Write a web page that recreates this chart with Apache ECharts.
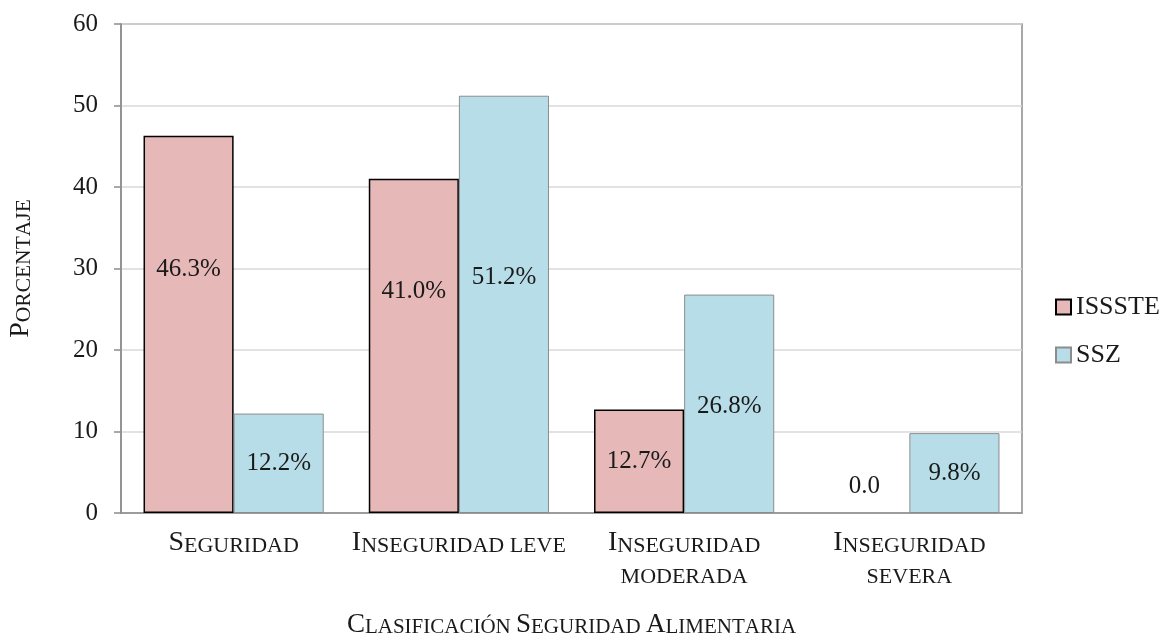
<!DOCTYPE html>
<html>
<head>
<meta charset="utf-8">
<script src="https://cdn.jsdelivr.net/npm/echarts@6/dist/echarts.min.js"></script>
<style>
  html, body { margin: 0; padding: 0; background: #fff; }
  #chart { width: 1164px; height: 637px; }
</style>
</head>
<body>
<div id="chart"></div>
<script>
// Food security classification by health-service affiliation (percent)
const categories = ['Seguridad', 'Inseguridad leve', 'Inseguridad\nmoderada', 'Inseguridad\nsevera'];
const seriesNames = ['ISSSTE', 'SSZ'];
const issste = [46.3, 41.0, 12.7, 0.0];
const ssz = [12.2, 51.2, 26.8, 9.8];
const yTicks = [0, 10, 20, 30, 40, 50, 60];

// vertical nudges of the value labels inside the bars (px)
const isssteLabelShift = [-55, -54, 0, 0];
const sszLabelShift = [0, -27, 3, 0];

const FONT = '"Liberation Serif", "DejaVu Serif", serif';

// Small-caps rendering through rich text: capitals big, lower case as small capitals
function smallCaps(text, big, small) {
  let out = '';
  for (const ch of text) {
    if (ch === '\n') { out += '\n'; continue; }
    if (ch === ' ') { out += '{sp| }'; continue; }
    if (ch === ch.toUpperCase() && ch !== ch.toLowerCase()) out += '{' + big + '|' + ch + '}';
    else out += '{' + small + '|' + ch.toUpperCase() + '}';
  }
  return out;
}
function capsRich(bigSize, smallSize) {
  return {
    B: { fontFamily: FONT, fontSize: bigSize, color: '#1a1a1a', verticalAlign: 'bottom' },
    s: { fontFamily: FONT, fontSize: smallSize, color: '#1a1a1a', verticalAlign: 'bottom' },
    sp: { fontFamily: FONT, fontSize: smallSize, color: '#1a1a1a', verticalAlign: 'bottom' }
  };
}

function fmtLabel(p) {
  return p.value === 0 ? '0.0' : p.value.toFixed(1) + '%';
}

function buildData(values, shifts) {
  return values.map((v, i) => {
    if (v === 0) {
      return { value: v, itemStyle: { borderWidth: 0 }, label: { position: 'top', distance: 14 } };
    }
    return { value: v, label: { offset: [0, shifts[i]] } };
  });
}

const chart = echarts.init(document.getElementById('chart'), null, { renderer: 'canvas' });

const labelStyle = {
  show: true,
  position: 'inside',
  formatter: fmtLabel,
  fontFamily: FONT,
  fontSize: 25,
  color: '#1a1a1a'
};

chart.setOption({
  animation: false,
  backgroundColor: '#ffffff',
  grid: {
    left: 121, right: 142, top: 24, bottom: 124,
    show: true, borderColor: '#8c8c8c', borderWidth: 1.5,
    outerBoundsMode: 'none'
  },
  legend: {
    orient: 'vertical',
    left: 1050,
    top: 289,
    itemGap: 22,
    itemWidth: 15,
    itemHeight: 15,
    icon: 'rect',
    data: seriesNames,
    textStyle: { fontFamily: FONT, fontSize: 26, color: '#1a1a1a' }
  },
  xAxis: {
    type: 'category',
    data: categories,
    name: smallCaps('Clasificación Seguridad Alimentaria', 'B', 's'),
    nameLocation: 'middle',
    nameGap: 95,
    nameMoveOverlap: false,
    nameTextStyle: { lineHeight: 30, rich: capsRich(27, 21) },
    axisLine: { show: true, lineStyle: { color: '#8c8c8c', width: 1.5 } },
    axisTick: { show: false },
    axisLabel: {
      interval: 0,
      margin: 13,
      lineHeight: 31,
      formatter: v => smallCaps(v, 'B', 's'),
      rich: capsRich(28, 22)
    }
  },
  yAxis: {
    type: 'value',
    min: 0, max: 60, interval: 10,
    name: smallCaps('Porcentaje', 'B', 's'),
    nameLocation: 'middle',
    nameRotate: 90,
    nameGap: 86,
    nameMoveOverlap: false,
    nameTextStyle: { lineHeight: 30, rich: capsRich(28, 21.5) },
    axisLine: { show: true, lineStyle: { color: '#8c8c8c', width: 1.5 } },
    axisTick: { show: true, inside: false, length: 7, lineStyle: { color: '#8c8c8c', width: 1.5 } },
    axisLabel: {
      margin: 23,
      fontFamily: FONT, fontSize: 25, color: '#1a1a1a',
      formatter: v => (yTicks.includes(v) ? String(v) : '')
    },
    splitLine: { show: true, lineStyle: { color: '#d9d9d9', width: 1.5 } }
  },
  series: [
    {
      name: seriesNames[0],
      type: 'bar',
      data: buildData(issste, isssteLabelShift),
      barGap: '0%',
      barCategoryGap: '20%',
      itemStyle: { color: '#e6b8b7', borderColor: '#000000', borderWidth: 1.5 },
      label: labelStyle
    },
    {
      name: seriesNames[1],
      type: 'bar',
      data: buildData(ssz, sszLabelShift),
      barGap: '0%',
      barCategoryGap: '20%',
      itemStyle: { color: '#b7dee8', borderColor: '#8c8c8c', borderWidth: 1 },
      label: labelStyle
    }
  ]
});
</script>
</body>
</html>
